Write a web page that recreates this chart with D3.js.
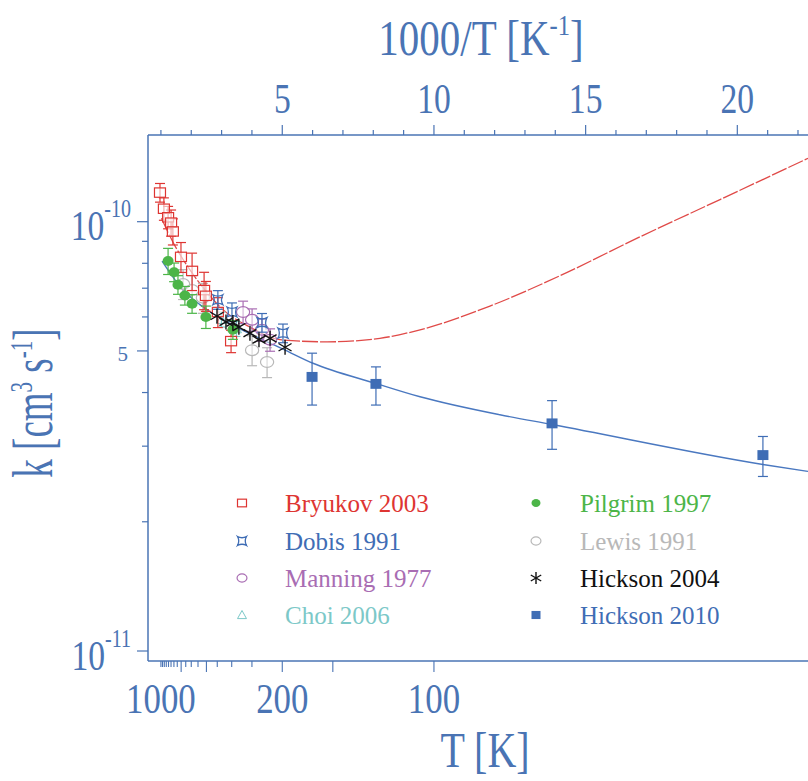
<!DOCTYPE html>
<html><head><meta charset="utf-8">
<script src="https://cdn.jsdelivr.net/npm/d3@7"></script>
<style>body{margin:0;background:#fff} svg{display:block}</style>
</head><body>
<svg id="c" width="808" height="781"></svg>
<script>
// ---------- data (x = 1000/T in K^-1, k in cm^3 s^-1, e = relative error) ----------
const bryukov = [
  [0.969,1.169e-10,0.05],[1.098,1.072e-10,0.06],[1.236,1.024e-10,0.06],[1.335,9.95e-11,0.07],
  [1.394,9.49e-11,0.07],[1.661,8.28e-11,0.08],[2.027,7.68e-11,0.10],[2.423,6.93e-11,0.10],
  [2.482,6.72e-11,0.08],[2.877,6.16e-11,0.08],[3.312,5.27e-11,0.06]
];
const dobis = [[2.877,6.58e-11,0.05],[3.342,6.16e-11,0.05],[4.331,5.82e-11,0.05],[5.023,5.50e-11,0.05]];
const manning = [[3.708,6.16e-11,0.06],[4.005,5.91e-11,0.06],[4.331,5.60e-11,0.06],[4.598,5.31e-11,0.06]];
const choi = [[2.996,5.92e-11,0.04],[3.490,5.63e-11,0.04]];
const pilgrim = [[1.236,8.10e-11,0.07],[1.434,7.63e-11,0.05],[1.562,7.13e-11,0.05],[1.790,6.73e-11,0.05],
  [2.027,6.44e-11,0.05],[2.482,6.00e-11,0.06],[3.372,5.60e-11,0.05]];
const lewis = [[1.730,7.16e-11,0.08],[2.027,6.93e-11,0.08],[2.383,6.65e-11,0.08],[4.005,5.02e-11,0.08],[4.499,4.71e-11,0.08]];
const hickson2004 = [[2.848,6.03e-11],[3.144,5.84e-11],[3.372,5.82e-11],[3.570,5.68e-11],[3.935,5.50e-11],
  [4.232,5.31e-11],[4.598,5.35e-11],[5.092,5.10e-11]];
const hickson2010 = [[5.982,4.35e-11,3.74e-11,4.94e-11],[8.088,4.19e-11,3.74e-11,4.59e-11],
  [13.893,3.39e-11,2.95e-11,3.83e-11],[20.844,2.86e-11,2.55e-11,3.16e-11]];
const blueFit = [[1.038,8.09e-11],[1.730,6.93e-11],[2.284,6.41e-11],[3.372,5.74e-11],[4.499,5.25e-11],
  [5.023,5.05e-11],[6.012,4.68e-11],[8.088,4.20e-11],[9.542,3.91e-11],[12.172,3.55e-11],[13.893,3.37e-11],
  [20.844,2.72e-11],[22.33,2.62e-11]];
const redFit = [[1.018,1.019e-10],[1.394,8.97e-11],[1.958,7.72e-11],[2.521,6.84e-11],[3.045,6.24e-11],
  [3.935,5.68e-11],[4.924,5.31e-11],[6.477,5.25e-11],[8.217,5.35e-11],[9.542,5.60e-11],[11.846,6.36e-11],
  [14.149,7.48e-11],[16.790,9.22e-11],[19.430,1.126e-10],[22.33,1.405e-10]];
const topTicks = d3.range(1,23);
const topLabels = [5,10,15,20];
const bottomTicksT = [1000,950,900,850,800,750,700,650,600,550,500,450,400,350,300,250,200,150,100];
const bottomMajorT = [600,400,200,150,100];
const bottomLabelsT = [1000,200,100];
const yMinorTicks = [2e-11,3e-11,4e-11,6e-11,7e-11,8e-11,9e-11];
const yMajorTicks = [1e-11,5e-11,1e-10];
const legendItems = [
  {name:"Bryukov 2003", col:0, row:0, sym:"square", color:"#de3532"},
  {name:"Dobis 1991", col:0, row:1, sym:"concave", color:"#3f6db5"},
  {name:"Manning 1977", col:0, row:2, sym:"circle", color:"#a96db3"},
  {name:"Choi 2006", col:0, row:3, sym:"triangle", color:"#7cc8c8"},
  {name:"Pilgrim 1997", col:1, row:0, sym:"dot", color:"#4cb548"},
  {name:"Lewis 1991", col:1, row:1, sym:"circle", color:"#b8b8b8"},
  {name:"Hickson 2004", col:1, row:2, sym:"star", color:"#111111"},
  {name:"Hickson 2010", col:1, row:3, sym:"fsquare", color:"#3f6db5"}
];

// ---------- setup ----------
const AX = "#4a74b4";
const FONT = "'Liberation Serif','Times New Roman',serif";
const svg = d3.select("#c");
const L=148, R=808, T=135, B=661;
const x = d3.scaleLinear().domain([0.574,22.33]).range([L,R]);
const y = d3.scaleLog().domain([9.478e-12,1.592e-10]).range([B,T]);

// text helper: parts = [[str, isSup]], condensed horizontally by sx
function label(tx, ty, parts, size, supSize, supDy, sx, anchor, rot){
  const t = svg.append("text")
    .attr("transform",`translate(${tx},${ty})${rot?` rotate(${rot})`:""} scale(${sx},1)`)
    .attr("text-anchor",anchor).attr("font-family",FONT).attr("font-size",size).attr("fill",AX);
  let up = false;
  parts.forEach(([s,sup])=>{
    const sp = t.append("tspan").text(s);
    if(sup && !up){ sp.attr("dy",-supDy).attr("font-size",supSize); up=true; }
    else if(sup){ sp.attr("font-size",supSize); }
    else if(up){ sp.attr("dy",supDy); up=false; }
  });
  return t;
}

// frame
[[L,L,T,B],[L,R,T,T],[L,R,B,B]].forEach(([x1,x2,y1,y2])=>
  svg.append("line").attr("x1",x1).attr("x2",x2).attr("y1",y1).attr("y2",y2).attr("stroke",AX).attr("stroke-width",1.5));

// top axis
topTicks.forEach(v=>{
  const major = v%5===0;
  svg.append("line").attr("x1",x(v)).attr("x2",x(v)).attr("y1",T).attr("y2",T-(major?10:5)).attr("stroke",AX).attr("stroke-width",1.2);
});
topLabels.forEach(v=> label(x(v),113,[[String(v)]],42,0,0,0.8,"middle"));
label(481,55,[["1000/T [K"],["-1",true],["]"]],50,30,20,0.82,"middle");

// bottom axis
bottomTicksT.forEach(t=>{
  const major = bottomMajorT.includes(t);
  svg.append("line").attr("x1",x(1000/t)).attr("x2",x(1000/t)).attr("y1",B).attr("y2",B+(major?11:6)).attr("stroke",AX).attr("stroke-width",1.1);
});
bottomLabelsT.forEach(t=> label(x(1000/t),713,[[String(t)]],42,0,0,0.83,"middle"));
label(485,767,[["T [K]"]],50,0,0,0.8,"middle");

// left axis
yMajorTicks.forEach(v=> svg.append("line").attr("x1",L).attr("x2",L-11).attr("y1",y(v)).attr("y2",y(v)).attr("stroke",AX).attr("stroke-width",1.2));
yMinorTicks.forEach(v=> svg.append("line").attr("x1",L).attr("x2",L-6).attr("y1",y(v)).attr("y2",y(v)).attr("stroke",AX).attr("stroke-width",1.2));
[[1e-10,"-10"],[1e-11,"-11"]].forEach(([v,e])=> label(131,y(v)+18.5,[["10"],[e,true]],42,25,23,0.8,"end"));
label(128,y(5e-11)+10,[["5"]],21,0,0,1,"end");
label(52,403,[["k [cm"],["3",true],[" s"],["-1",true],["]"]],56,32,20,0.66,"middle",-90);

// ---------- plot ----------
const g = svg.append("g");
const line = d3.line().x(d=>x(d[0])).y(d=>y(d[1])).curve(d3.curveMonotoneX);
g.append("path").datum(blueFit).attr("d",line).attr("fill","none").attr("stroke","#4a78c0").attr("stroke-width",1.4);
g.append("path").datum(redFit).attr("d",line).attr("fill","none").attr("stroke","#e04a48").attr("stroke-width",1.3).attr("stroke-dasharray","16,2");

function errbar(data,color,w){
  data.forEach(d=>{
    const lo = d.length===4? d[2] : d[1]*(1-d[2]);
    const hi = d.length===4? d[3] : d[1]*(1+d[2]);
    const cx = x(d[0]);
    g.append("line").attr("x1",cx).attr("x2",cx).attr("y1",y(lo)).attr("y2",y(hi)).attr("stroke",color).attr("stroke-width",1.2);
    [lo,hi].forEach(v=>g.append("line").attr("x1",cx-w).attr("x2",cx+w).attr("y1",y(v)).attr("y2",y(v)).attr("stroke",color).attr("stroke-width",1.2));
  });
}
function symbol(sel,sym,color,s){
  if(sym==="square") sel.append("rect").attr("x",-s).attr("y",-s*0.85).attr("width",2*s).attr("height",1.7*s).attr("fill","#fff").attr("fill-opacity",0.6).attr("stroke",color).attr("stroke-width",1.2);
  if(sym==="fsquare") sel.append("rect").attr("x",-s).attr("y",-s*0.9).attr("width",2*s).attr("height",1.8*s).attr("fill",color);
  if(sym==="dot") sel.append("ellipse").attr("rx",s).attr("ry",s*0.9).attr("fill",color);
  if(sym==="circle") sel.append("ellipse").attr("rx",s*1.1).attr("ry",s*0.9).attr("fill","#fff").attr("fill-opacity",0.5).attr("stroke",color).attr("stroke-width",1.2);
  if(sym==="triangle") sel.append("path").attr("d",`M0,${-s} L${s},${s*0.8} L${-s},${s*0.8} Z`).attr("fill","none").attr("stroke",color).attr("stroke-width",1);
  if(sym==="concave") sel.append("path").attr("d",`M${-s},${-s} Q0,${-s*0.45} ${s},${-s} Q${s*0.45},0 ${s},${s} Q0,${s*0.45} ${-s},${s} Q${-s*0.45},0 ${-s},${-s} Z`).attr("fill","none").attr("stroke",color).attr("stroke-width",1.3);
  if(sym==="star"){
    [0,60,120].forEach(a=>{
      const r=a*Math.PI/180+Math.PI/2;
      sel.append("line").attr("x1",-s*Math.cos(r)).attr("y1",-s*Math.sin(r)).attr("x2",s*Math.cos(r)).attr("y2",s*Math.sin(r)).attr("stroke",color).attr("stroke-width",1.4);
    });
  }
}
function series(data,sym,color,s,w){
  if(data[0].length>2) errbar(data,color,w);
  data.forEach(d=>{
    const sel = g.append("g").attr("transform",`translate(${x(d[0])},${y(d[1])})`);
    symbol(sel,sym,color,s);
  });
}
series(lewis,"circle","#b8b8b8",6,5);
series(choi,"triangle","#7cc8c8",5,4);
series(bryukov,"square","#de3532",5.5,5);
series(manning,"circle","#a96db3",6,5);
series(dobis,"concave","#3f6db5",5,5);
series(pilgrim,"dot","#4cb548",5.5,5);
series(hickson2004,"star","#111111",7.5,0);
series(hickson2010,"fsquare","#3f6db5",5.5,5);

// ---------- legend ----------
const colX = [[242,285],[536,580]];
const rowY = [503,541,578,615];
legendItems.forEach(it=>{
  const mx = colX[it.col][0], ty = rowY[it.row];
  const sel = svg.append("g").attr("transform",`translate(${mx},${ty})`);
  symbol(sel,it.sym,it.color, it.sym==="star"?6:4.5);
  svg.append("text").attr("x",colX[it.col][1]).attr("y",ty+9).attr("font-family",FONT).attr("font-size",25).attr("fill",it.color).text(it.name);
});
</script>
</body></html>
